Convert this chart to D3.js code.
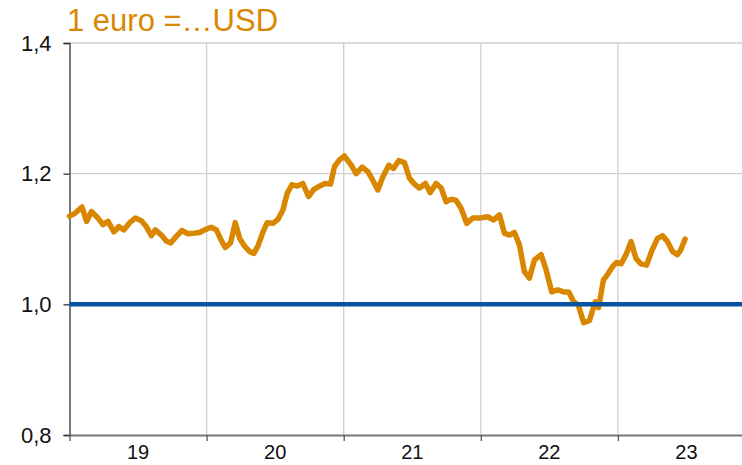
<!DOCTYPE html>
<html>
<head>
<meta charset="utf-8">
<script src="https://cdn.jsdelivr.net/npm/d3@7"></script>
<style>
  html, body { margin: 0; padding: 0; background: #fff; }
  svg { display: block; font-family: "Liberation Sans", Arial, sans-serif; }
</style>
</head>
<body>
<svg id="chart" width="742" height="465"></svg>
<script>
// ---- data ----
const title = "1 euro =\u2026USD";
const yearTicks = [2019, 2020, 2021, 2022, 2023];
const yearLabels = ["19", "20", "21", "22", "23"];
const yTicks = [0.8, 1.0, 1.2, 1.4];
const refValue = 1.0;
// time as decimal year
const times = [
  2019.000, 2019.038, 2019.091, 2019.125, 2019.160, 2019.208, 2019.244, 2019.281, 2019.324, 2019.359,
  2019.397, 2019.439, 2019.480, 2019.524, 2019.560, 2019.597, 2019.626, 2019.670, 2019.706, 2019.738,
  2019.779, 2019.820, 2019.864, 2019.913, 2019.949, 2019.985,
  2020.034, 2020.071, 2020.107, 2020.136, 2020.175, 2020.209, 2020.241, 2020.277, 2020.313, 2020.345,
  2020.374, 2020.410, 2020.442, 2020.483, 2020.520, 2020.556, 2020.588, 2020.622, 2020.661, 2020.702,
  2020.743, 2020.782, 2020.824, 2020.865, 2020.904, 2020.933, 2020.969, 2021.006,
  2021.055, 2021.091, 2021.135, 2021.176, 2021.212, 2021.249, 2021.285, 2021.329, 2021.363, 2021.402,
  2021.443, 2021.480, 2021.516, 2021.552, 2021.596, 2021.630, 2021.674, 2021.711, 2021.747, 2021.784,
  2021.820, 2021.856, 2021.897, 2021.941, 2021.990,
  2022.050, 2022.094, 2022.136, 2022.172, 2022.209, 2022.245, 2022.282, 2022.318, 2022.354, 2022.391,
  2022.440, 2022.476, 2022.517, 2022.560, 2022.604, 2022.641, 2022.677, 2022.711, 2022.750, 2022.792,
  2022.835, 2022.859, 2022.894, 2022.925, 2022.962, 2022.989,
  2023.023, 2023.059, 2023.096, 2023.132, 2023.168, 2023.209, 2023.249, 2023.289, 2023.326, 2023.362,
  2023.398, 2023.434, 2023.458, 2023.490
];
const rates = [
  1.135, 1.139, 1.149, 1.127, 1.142, 1.132, 1.122, 1.127, 1.111, 1.119,
  1.114, 1.125, 1.132, 1.128, 1.119, 1.105, 1.114, 1.106, 1.097, 1.094,
  1.104, 1.113, 1.108, 1.109, 1.110, 1.114,
  1.118, 1.114, 1.098, 1.087, 1.094, 1.125, 1.101, 1.089, 1.081, 1.078,
  1.089, 1.110, 1.125, 1.124, 1.130, 1.144, 1.170, 1.183, 1.181, 1.185,
  1.165, 1.176, 1.181, 1.185, 1.184, 1.211, 1.221, 1.227,
  1.213, 1.200, 1.210, 1.203, 1.190, 1.175, 1.195, 1.213, 1.208, 1.220,
  1.217, 1.193, 1.184, 1.178, 1.185, 1.171, 1.185, 1.178, 1.157, 1.161,
  1.159, 1.147, 1.124, 1.132, 1.132,
  1.134, 1.129, 1.137, 1.109, 1.106, 1.110, 1.091, 1.050, 1.040, 1.068,
  1.076, 1.053, 1.019, 1.022, 1.019, 1.019, 1.004, 0.999, 0.972, 0.975,
  1.004, 0.995, 1.037, 1.046, 1.058, 1.064,
  1.062, 1.076, 1.096, 1.070, 1.062, 1.060, 1.083, 1.101, 1.105, 1.096,
  1.081, 1.076, 1.083, 1.100
];
const xDomain = [2019.0, 2023.905];
const yDomain = [0.8, 1.4];

(function () {
  const svg = d3.select("#chart");
  const mLeft = 69.5, mRight = 742, mTop = 43, mBottom = 435;

  const x = d3.scaleLinear().domain(xDomain).range([mLeft, mRight]);
  const y = d3.scaleLinear().domain(yDomain).range([mBottom, mTop]);
  const fmt = v => d3.format(".1f")(v).replace(".", ",");

  // gridlines
  svg.append("g").selectAll("line")
    .data(yTicks.filter(v => v > yDomain[0] && v !== refValue))
    .join("line")
    .attr("x1", mLeft).attr("x2", mRight)
    .attr("y1", d => y(d)).attr("y2", d => y(d))
    .attr("stroke", "#cfcfcf").attr("stroke-width", 1.3);
  svg.append("g").selectAll("line")
    .data(yearTicks.filter(v => v > xDomain[0]))
    .join("line")
    .attr("x1", d => x(d)).attr("x2", d => x(d))
    .attr("y1", mTop).attr("y2", mBottom)
    .attr("stroke", "#cfcfcf").attr("stroke-width", 1.3);

  // y axis
  const yAxis = d3.axisLeft(y).tickValues(yTicks).tickFormat(fmt).tickSize(6).tickPadding(12);
  const gy = svg.append("g").attr("transform", `translate(${mLeft},0)`).call(yAxis);
  gy.select(".domain").attr("stroke", "#333").attr("stroke-width", 1.3);
  gy.selectAll(".tick line").attr("stroke", "#333").attr("stroke-width", 1.3);
  gy.selectAll(".tick text").attr("font-size", 22).attr("fill", "#111")
    .attr("font-family", "Liberation Sans, Arial, sans-serif");

  // x axis
  const xAxis = d3.axisBottom(x).tickValues(yearTicks).tickFormat("").tickSize(6).tickSizeOuter(0);
  const gx = svg.append("g").attr("transform", `translate(0,${mBottom})`).call(xAxis);
  gx.select(".domain").attr("stroke", "#777").attr("stroke-width", 2);
  gx.selectAll(".tick line").attr("stroke", "#555").attr("stroke-width", 1.3);
  svg.append("g").selectAll("text")
    .data(yearTicks)
    .join("text")
    .attr("x", d => x(d + 0.5))
    .attr("y", 459)
    .attr("text-anchor", "middle")
    .attr("font-size", 20)
    .attr("fill", "#111")
    .text((d, i) => yearLabels[i]);

  // data line
  const data = times.map((t, i) => ({ t, v: rates[i] }));
  svg.append("path")
    .datum(data)
    .attr("fill", "none")
    .attr("stroke", "#d98700")
    .attr("stroke-width", 5.5)
    .attr("stroke-linejoin", "round")
    .attr("stroke-linecap", "round")
    .attr("d", d3.line().x(d => x(d.t)).y(d => y(d.v)));

  // reference line at 1,0
  svg.append("line")
    .attr("x1", mLeft).attr("x2", mRight)
    .attr("y1", y(refValue)).attr("y2", y(refValue))
    .attr("stroke", "#0553a1").attr("stroke-width", 4.5);

  // title
  svg.append("text")
    .attr("x", 67).attr("y", 31)
    .attr("font-size", 31)
    .attr("fill", "#d98700")
    .text(title);
})();
</script>
</body>
</html>
